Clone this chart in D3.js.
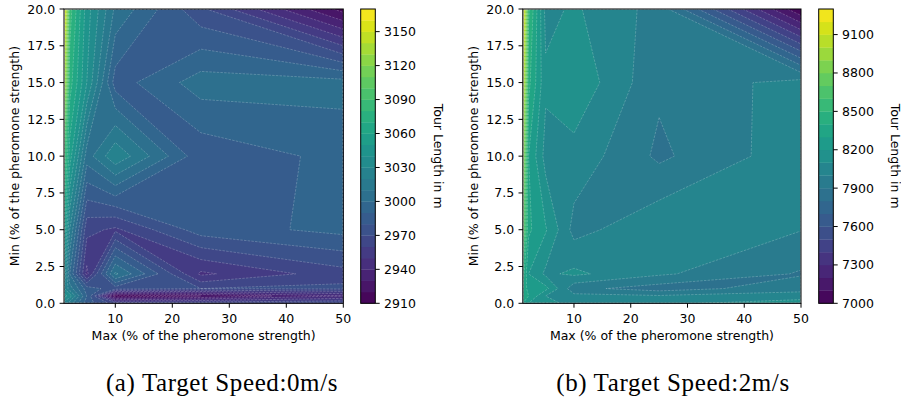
<!DOCTYPE html>
<html>
<head>
<meta charset="utf-8">
<script src="https://cdn.jsdelivr.net/npm/d3@7"></script>
<style>
  html, body { margin: 0; padding: 0; background: #fff; }
  svg { display: block; }
  text { font-family: "DejaVu Sans", sans-serif; fill: #000; }
</style>
</head>
<body>
<svg id="chart" width="901" height="405"></svg>
<script>
// ---- data ----
const maxValues = [1, 2, 5, 10, 25, 50];            // x grid (Max %)
const minValues = [0, 0.5, 1, 2, 5, 10, 15, 20];     // y grid (Min %)

// Tour length, target speed 0 m/s (rows follow minValues, columns follow maxValues)
const tourLengthSpeed0 = [
  [3025, 3015, 2985, 2965, 2968, 2970],
  [3045, 3035, 2990, 2913, 2920, 2940],
  [3032, 3015, 2985, 2975, 2970, 2972],
  [3040, 3000, 2947, 3012, 2948, 2966],
  [3060, 3020, 2963, 2958, 2985, 2993],
  [3092, 3055, 3005, 3028, 2983, 2993],
  [3142, 3075, 3040, 2985, 3005, 3004],
  [3168, 3085, 3045, 3008, 2972, 2916]
];
// Tour length, target speed 2 m/s
const tourLengthSpeed2 = [
  [8300, 8200, 8150, 8050, 8080, 8150],
  [8350, 8300, 8100, 8030, 8010, 8050],
  [8400, 8250, 8230, 7930, 7850, 7960],
  [8450, 8200, 8080, 8120, 8016, 7890],
  [8750, 8320, 8210, 7964, 8080, 8003],
  [8950, 8300, 8062, 8064, 7880, 8065],
  [9150, 8430, 8120, 8179, 7918, 8042],
  [9280, 8520, 8070, 8115, 7960, 7010]
];

const levelsSpeed0 = d3.range(2910, 3170 + 1, 10);
const levelsSpeed2 = d3.range(7000, 9300 + 1, 100);
const cbarTicksSpeed0 = [2910, 2940, 2970, 3000, 3030, 3060, 3090, 3120, 3150];
const cbarTicksSpeed2 = [7000, 7300, 7600, 7900, 8200, 8500, 8800, 9100];
const xTicks = [10, 20, 30, 40, 50];
const yTicks = [0, 2.5, 5, 7.5, 10, 12.5, 15, 17.5, 20];
const captions = ["(a) Target Speed:0m/s", "(b) Target Speed:2m/s"];
const xLabel = "Max (% of the pheromone strength)";
const yLabel = "Min (% of the pheromone strength)";
const cbarLabel = "Tour Length in m";

// ---- drawing ----
const svg = d3.select("#chart");
const FS = 12.5;
const TL = 4.4;   // tick length
const LW = 1;     // axis line width

function drawPanel(cfg) {
  const { left, right, top, bottom, cbLeft, cbRight, Z, levels, cbTicks, caption, capX, ylabX, cblabX, id } = cfg;
  const g = svg.append("g");
  const xScale = d3.scaleLinear().domain([1, 50]).range([left, right]);
  const yScale = d3.scaleLinear().domain([0, 20]).range([bottom, top]);
  const nBands = levels.length - 1;
  const color = k => d3.interpolateViridis((k + 0.5) / nBands);

  const nx = maxValues.length, ny = minValues.length;
  const values = [];
  for (let j = 0; j < ny; j++) for (let i = 0; i < nx; i++) values.push(Z[j][i]);

  function mapCoord(c, arr) {
    const n = arr.length;
    const u = Math.max(0, Math.min(n - 1, c - 0.5));
    const i0 = Math.min(n - 2, Math.floor(u));
    const t = u - i0;
    return arr[i0] + t * (arr[i0 + 1] - arr[i0]);
  }
  const proj = d3.geoTransform({
    point(x, y) { this.stream.point(xScale(mapCoord(x, maxValues)), yScale(mapCoord(y, minValues))); }
  });
  const path = d3.geoPath(proj);

  g.append("clipPath").attr("id", "clip" + id)
    .append("rect").attr("x", left).attr("y", top).attr("width", right - left).attr("height", bottom - top);

  const plot = g.append("g").attr("clip-path", `url(#clip${id})`);
  plot.append("rect").attr("x", left).attr("y", top).attr("width", right - left).attr("height", bottom - top)
    .attr("fill", color(0));

  const thresholds = levels.slice(1, -1);
  const contours = d3.contours().size([nx, ny]).thresholds(thresholds)(values);
  contours.forEach((c, k) => {
    plot.append("path").attr("d", path(c)).attr("fill", color(k + 1)).attr("stroke", color(k + 1)).attr("stroke-width", 0.3);
  });
  contours.forEach((c) => {
    plot.append("path").attr("d", path(c)).attr("fill", "none")
      .attr("stroke", "rgba(255,255,255,0.4)").attr("stroke-width", 0.55)
      .attr("stroke-dasharray", "2.5,1.2");
  });

  // frame
  g.append("rect").attr("x", left).attr("y", top).attr("width", right - left).attr("height", bottom - top)
    .attr("fill", "none").attr("stroke", "#000").attr("stroke-width", LW);

  // x axis
  xTicks.forEach(t => {
    const x = xScale(t);
    g.append("line").attr("x1", x).attr("x2", x).attr("y1", bottom).attr("y2", bottom + TL).attr("stroke", "#000").attr("stroke-width", LW);
    g.append("text").attr("x", x).attr("y", bottom + 19.3).attr("text-anchor", "middle").attr("font-size", FS).text(t);
  });
  g.append("text").attr("x", (left + right) / 2).attr("y", bottom + 36.5).attr("text-anchor", "middle").attr("font-size", FS).text(xLabel);

  // y axis
  yTicks.forEach(t => {
    const y = yScale(t);
    g.append("line").attr("x1", left - TL).attr("x2", left).attr("y1", y).attr("y2", y).attr("stroke", "#000").attr("stroke-width", LW);
    g.append("text").attr("x", left - 8.8).attr("y", y + 4.5).attr("text-anchor", "end").attr("font-size", FS).text(d3.format(".1f")(t));
  });
  g.append("text").attr("transform", `translate(${ylabX},${(top + bottom) / 2}) rotate(-90)`)
    .attr("text-anchor", "middle").attr("font-size", FS).text(yLabel);

  // colorbar
  const cScale = d3.scaleLinear().domain([levels[0], levels[levels.length - 1]]).range([bottom, top]);
  for (let k = 0; k < nBands; k++) {
    const y0 = cScale(levels[k + 1]), y1 = cScale(levels[k]);
    g.append("rect").attr("x", cbLeft).attr("y", y0).attr("width", cbRight - cbLeft).attr("height", y1 - y0 + 0.3)
      .attr("fill", color(k));
  }
  g.append("rect").attr("x", cbLeft).attr("y", top).attr("width", cbRight - cbLeft).attr("height", bottom - top)
    .attr("fill", "none").attr("stroke", "#000").attr("stroke-width", LW);
  cbTicks.forEach(t => {
    const y = cScale(t);
    g.append("line").attr("x1", cbRight).attr("x2", cbRight + TL).attr("y1", y).attr("y2", y).attr("stroke", "#000").attr("stroke-width", LW);
    g.append("text").attr("x", cbRight + 8.8).attr("y", y + 4.5).attr("font-size", FS).text(t);
  });
  g.append("text").attr("transform", `translate(${cblabX},${(top + bottom) / 2}) rotate(90)`)
    .attr("text-anchor", "middle").attr("font-size", FS).text(cbarLabel);

  // caption
  svg.append("text").attr("x", capX).attr("y", 391).attr("text-anchor", "middle")
    .style("font-family", "'Liberation Serif', 'DejaVu Serif', serif").style("letter-spacing", "0.6px")
    .attr("font-size", 25).text(caption);
}

drawPanel({ id: "a", left: 64, right: 343.3, top: 9, bottom: 303.3, cbLeft: 360.7, cbRight: 375.3,
  Z: tourLengthSpeed0, levels: levelsSpeed0, cbTicks: cbarTicksSpeed0, caption: captions[0],
  capX: 222, ylabX: 19, cblabX: 434 });
drawPanel({ id: "b", left: 522.9, right: 801, top: 9, bottom: 303.3, cbLeft: 818.7, cbRight: 833.3,
  Z: tourLengthSpeed2, levels: levelsSpeed2, cbTicks: cbarTicksSpeed2, caption: captions[1],
  capX: 673, ylabX: 477.5, cblabX: 890.5 });
</script>
</body>
</html>
